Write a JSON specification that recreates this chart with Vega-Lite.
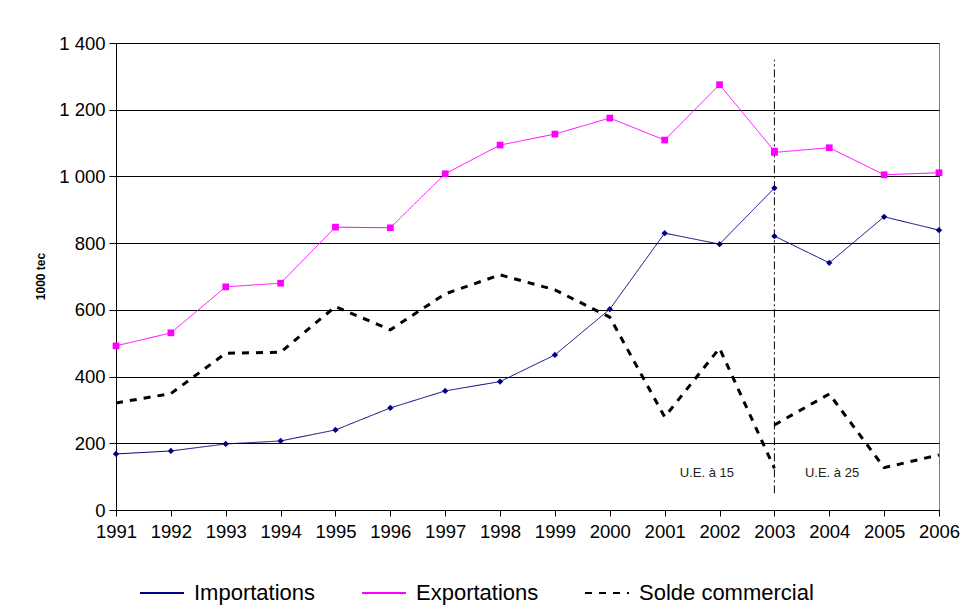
{
  "$schema": "https://vega.github.io/schema/vega-lite/v6.json",
  "autosize": "none",
  "width": 823,
  "height": 467,
  "padding": {"left": 116, "top": 43, "right": 30, "bottom": 99},
  "background": "white",
  "config": {
    "font": "Liberation Sans",
    "view": {"stroke": "#808080", "strokeWidth": 1},
    "axis": {"labelFont": "Liberation Sans", "labelColor": "black", "domainColor": "black", "tickColor": "black", "gridColor": "black", "gridOpacity": 1, "gridWidth": 1}
  },
  "datasets": {
    "series": [
      {"year": 1991, "value": 168, "series": "Importations", "period": "UE15"},
      {"year": 1992, "value": 177, "series": "Importations", "period": "UE15"},
      {"year": 1993, "value": 198, "series": "Importations", "period": "UE15"},
      {"year": 1994, "value": 207, "series": "Importations", "period": "UE15"},
      {"year": 1995, "value": 240, "series": "Importations", "period": "UE15"},
      {"year": 1996, "value": 306, "series": "Importations", "period": "UE15"},
      {"year": 1997, "value": 357, "series": "Importations", "period": "UE15"},
      {"year": 1998, "value": 385, "series": "Importations", "period": "UE15"},
      {"year": 1999, "value": 465, "series": "Importations", "period": "UE15"},
      {"year": 2000, "value": 602, "series": "Importations", "period": "UE15"},
      {"year": 2001, "value": 830, "series": "Importations", "period": "UE15"},
      {"year": 2002, "value": 797, "series": "Importations", "period": "UE15"},
      {"year": 2003, "value": 965, "series": "Importations", "period": "UE15"},
      {"year": 2003, "value": 821, "series": "Importations", "period": "UE25"},
      {"year": 2004, "value": 741, "series": "Importations", "period": "UE25"},
      {"year": 2005, "value": 879, "series": "Importations", "period": "UE25"},
      {"year": 2006, "value": 839, "series": "Importations", "period": "UE25"},
      {"year": 1991, "value": 492, "series": "Exportations", "period": "UE15"},
      {"year": 1992, "value": 531, "series": "Exportations", "period": "UE15"},
      {"year": 1993, "value": 669, "series": "Exportations", "period": "UE15"},
      {"year": 1994, "value": 680, "series": "Exportations", "period": "UE15"},
      {"year": 1995, "value": 848, "series": "Exportations", "period": "UE15"},
      {"year": 1996, "value": 846, "series": "Exportations", "period": "UE15"},
      {"year": 1997, "value": 1008, "series": "Exportations", "period": "UE15"},
      {"year": 1998, "value": 1094, "series": "Exportations", "period": "UE15"},
      {"year": 1999, "value": 1127, "series": "Exportations", "period": "UE15"},
      {"year": 2000, "value": 1175, "series": "Exportations", "period": "UE15"},
      {"year": 2001, "value": 1109, "series": "Exportations", "period": "UE15"},
      {"year": 2002, "value": 1275, "series": "Exportations", "period": "UE15"},
      {"year": 2003, "value": 1076, "series": "Exportations", "period": "UE15"},
      {"year": 2003, "value": 1072, "series": "Exportations", "period": "UE25"},
      {"year": 2004, "value": 1086, "series": "Exportations", "period": "UE25"},
      {"year": 2005, "value": 1005, "series": "Exportations", "period": "UE25"},
      {"year": 2006, "value": 1011, "series": "Exportations", "period": "UE25"},
      {"year": 1991, "value": 321, "series": "Solde commercial", "period": "UE15"},
      {"year": 1992, "value": 349, "series": "Solde commercial", "period": "UE15"},
      {"year": 1993, "value": 470, "series": "Solde commercial", "period": "UE15"},
      {"year": 1994, "value": 473, "series": "Solde commercial", "period": "UE15"},
      {"year": 1995, "value": 610, "series": "Solde commercial", "period": "UE15"},
      {"year": 1996, "value": 540, "series": "Solde commercial", "period": "UE15"},
      {"year": 1997, "value": 648, "series": "Solde commercial", "period": "UE15"},
      {"year": 1998, "value": 705, "series": "Solde commercial", "period": "UE15"},
      {"year": 1999, "value": 660, "series": "Solde commercial", "period": "UE15"},
      {"year": 2000, "value": 578, "series": "Solde commercial", "period": "UE15"},
      {"year": 2001, "value": 279, "series": "Solde commercial", "period": "UE15"},
      {"year": 2002, "value": 485, "series": "Solde commercial", "period": "UE15"},
      {"year": 2003, "value": 125, "series": "Solde commercial", "period": "UE15"},
      {"year": 2003, "value": 255, "series": "Solde commercial", "period": "UE25"},
      {"year": 2004, "value": 348, "series": "Solde commercial", "period": "UE25"},
      {"year": 2005, "value": 127, "series": "Solde commercial", "period": "UE25"},
      {"year": 2006, "value": 165, "series": "Solde commercial", "period": "UE25"}
    ],
    "divider": [{"year": 2003, "start": 50, "end": 1350}],
    "notes": [
      {"year": 2001.77, "value": 111, "label": "U.E. à 15"},
      {"year": 2004.05, "value": 111, "label": "U.E. à 25"}
    ]
  },
  "layer": [
    {
      "data": {"name": "divider"},
      "mark": {"type": "rule", "color": "black", "strokeWidth": 1, "strokeDash": [8, 3, 2, 3]},
      "encoding": {
        "x": {"field": "year", "type": "quantitative"},
        "y": {"field": "start", "type": "quantitative"},
        "y2": {"field": "end"}
      }
    },
    {
      "data": {"name": "notes"},
      "mark": {"type": "text", "fontSize": 13, "font": "Liberation Sans", "color": "#222", "align": "center", "baseline": "middle"},
      "encoding": {
        "x": {"field": "year", "type": "quantitative"},
        "y": {"field": "value", "type": "quantitative"},
        "text": {"field": "label"}
      }
    },
    {
      "data": {"name": "series"},
      "transform": [{"filter": "datum.series !== 'Solde commercial'"}],
      "mark": {"type": "line", "strokeWidth": 1},
      "encoding": {
        "x": {
          "field": "year", "type": "quantitative",
          "scale": {"domain": [1991, 2006], "nice": false, "zero": false},
          "axis": {"title": null, "values": [1991,1992,1993,1994,1995,1996,1997,1998,1999,2000,2001,2002,2003,2004,2005,2006], "format": "d", "grid": false, "labelFontSize": 18.5, "tickSize": 6, "labelPadding": 6, "labelFlush": false, "labelOverlap": false}
        },
        "y": {
          "field": "value", "type": "quantitative",
          "scale": {"domain": [0, 1400], "nice": false},
          "axis": {"title": "1000 tec", "titleFontSize": 12, "titleFontWeight": "bold", "titleFont": "Liberation Sans", "titleColor": "black", "titleX": -76, "titleY": 233, "titleAngle": -90, "titleAlign": "center", "titleBaseline": "middle", "values": [0, 200, 400, 600, 800, 1000, 1200, 1400], "labelExpr": "replace(format(datum.value, ','), ',', ' ')", "labelFontSize": 18.5, "tickSize": 7, "labelPadding": 4, "grid": true}
        },
        "color": {
          "field": "series", "type": "nominal",
          "scale": {"domain": ["Importations", "Exportations", "Solde commercial"], "range": ["#000080", "#FF00FF", "#000000"]},
          "legend": {"title": null, "orient": "none", "direction": "horizontal", "legendX": 23, "legendY": 527, "symbolType": "stroke", "symbolSize": 1936, "symbolStrokeWidth": 2, "labelFontSize": 22, "labelFont": "Liberation Sans", "labelColor": "black", "labelOffset": 9, "columnPadding": 42, "labelLimit": 400}
        },
        "strokeDash": {
          "field": "series", "type": "nominal",
          "scale": {"domain": ["Importations", "Exportations", "Solde commercial"], "range": [[1, 0], [1, 0], [7, 7]]},
          "legend": {"title": null, "orient": "none", "direction": "horizontal", "legendX": 23, "legendY": 527, "symbolType": "stroke", "symbolSize": 1936, "symbolStrokeWidth": 2, "labelFontSize": 22, "labelFont": "Liberation Sans", "labelColor": "black", "labelOffset": 9, "columnPadding": 42, "labelLimit": 400}
        },
        "detail": {"field": "period"}
      }
    },
    {
      "data": {"name": "series"},
      "transform": [{"filter": "datum.series === 'Solde commercial'"}],
      "mark": {"type": "line", "strokeWidth": 3},
      "encoding": {
        "x": {"field": "year", "type": "quantitative"},
        "y": {"field": "value", "type": "quantitative"},
        "color": {"field": "series", "type": "nominal"},
        "strokeDash": {"field": "series", "type": "nominal"},
        "detail": {"field": "period"}
      }
    },
    {
      "data": {"name": "series"},
      "transform": [{"filter": "datum.series === 'Importations'"}],
      "mark": {"type": "point", "shape": "diamond", "filled": true, "color": "#000080", "size": 40, "opacity": 1},
      "encoding": {
        "x": {"field": "year", "type": "quantitative"},
        "y": {"field": "value", "type": "quantitative"}
      }
    },
    {
      "data": {"name": "series"},
      "transform": [{"filter": "datum.series === 'Exportations'"}],
      "mark": {"type": "point", "shape": "square", "filled": true, "color": "#FF00FF", "size": 45, "opacity": 1},
      "encoding": {
        "x": {"field": "year", "type": "quantitative"},
        "y": {"field": "value", "type": "quantitative"}
      }
    }
  ]
}
